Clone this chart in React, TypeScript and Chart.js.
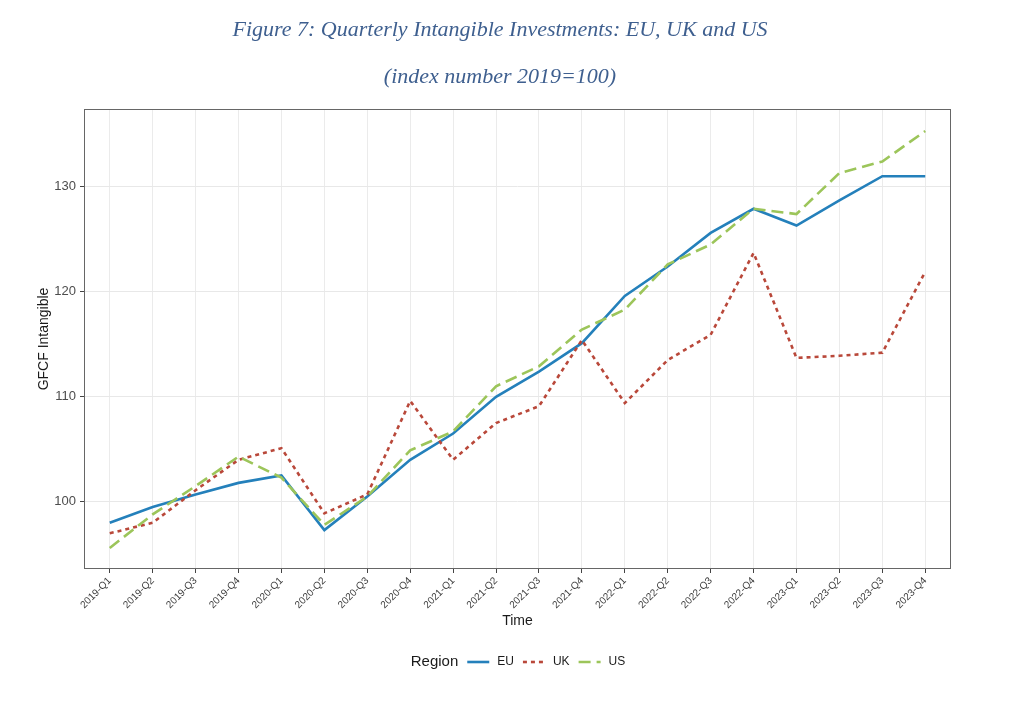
import React, { useEffect, useRef } from 'react';
import { Chart, registerables } from 'chart.js';

Chart.register(...registerables);

// quarters on the x axis
const quarters: string[] = [
  '2019-Q1', '2019-Q2', '2019-Q3', '2019-Q4',
  '2020-Q1', '2020-Q2', '2020-Q3', '2020-Q4',
  '2021-Q1', '2021-Q2', '2021-Q3', '2021-Q4',
  '2022-Q1', '2022-Q2', '2022-Q3', '2022-Q4',
  '2023-Q1', '2023-Q2', '2023-Q3', '2023-Q4',
];

// index values (2019 = 100)
const euValues: number[] = [
  98.0, 99.5, 100.7, 101.8,
  102.5, 97.3, 100.5, 104.0,
  106.5, 110.0, 112.4, 115.1,
  119.6, 122.4, 125.6, 127.9,
  126.3, 128.7, 131.0, 131.0,
];
const ukValues: number[] = [
  97.0, 98.0, 101.1, 104.0,
  105.1, 98.9, 100.7, 109.6,
  104.0, 107.5, 109.1, 115.4,
  109.4, 113.5, 115.9, 123.7,
  113.7, 113.9, 114.2, 121.9,
];
const usValues: number[] = [
  95.6, 98.8, 101.5, 104.3,
  102.3, 97.8, 100.5, 104.9,
  106.7, 111.0, 112.9, 116.4,
  118.3, 122.6, 124.5, 127.9,
  127.4, 131.3, 132.4, 135.3,
];

const yTicks: number[] = [100, 110, 120, 130];

const SANS = "'Liberation Sans', Arial, sans-serif";
const SERIF = "'Liberation Serif', 'Times New Roman', serif";

const toPoints = (vals: number[]) => vals.map((v, i) => ({ x: i, y: v }));

// grey frame round the panel, ggplot style
const panelBorder = {
  id: 'panelBorder',
  afterDatasetsDraw(chart: any) {
    const { ctx, chartArea } = chart;
    ctx.save();
    ctx.strokeStyle = '#666666';
    ctx.lineWidth = 1;
    ctx.strokeRect(chartArea.left + 0.5, chartArea.top + 0.5,
      chartArea.right - chartArea.left - 1, chartArea.bottom - chartArea.top - 1);
    ctx.restore();
  },
};

// legend with the "Region" label inline
const regionLegend = {
  id: 'regionLegend',
  afterDraw(chart: any) {
    const { ctx } = chart;
    const sets = chart.data.datasets;
    const y = 662;
    const lineW = 22;
    ctx.save();
    ctx.textBaseline = 'middle';
    ctx.font = `15px ${SANS}`;
    const titleW = ctx.measureText('Region').width;
    ctx.font = `12px ${SANS}`;
    let total = titleW + 9;
    sets.forEach((ds: any, i: number) => {
      total += lineW + 8 + ctx.measureText(ds.label).width + (i < sets.length - 1 ? 9 : 0);
    });
    let x = 518 - total / 2;
    ctx.fillStyle = '#1a1a1a';
    ctx.font = `15px ${SANS}`;
    ctx.fillText('Region', x, y);
    x += titleW + 9;
    ctx.font = `12px ${SANS}`;
    sets.forEach((ds: any) => {
      ctx.beginPath();
      ctx.setLineDash(ds.borderDash || []);
      ctx.strokeStyle = ds.borderColor;
      ctx.lineWidth = ds.borderWidth;
      ctx.moveTo(x, y);
      ctx.lineTo(x + lineW, y);
      ctx.stroke();
      ctx.setLineDash([]);
      x += lineW + 8;
      ctx.fillStyle = '#1a1a1a';
      ctx.fillText(ds.label, x, y);
      x += ctx.measureText(ds.label).width + 9;
    });
    ctx.restore();
  },
};

const App: React.FC = () => {
  const canvasRef = useRef<HTMLCanvasElement>(null);

  useEffect(() => {
    const ctx = canvasRef.current?.getContext('2d');
    if (!ctx) return;

    const chart = new Chart(ctx, {
      type: 'line',
      data: {
        datasets: [
          {
            label: 'EU',
            data: toPoints(euValues),
            borderColor: '#2480bb',
            borderWidth: 2.6,
            pointRadius: 0,
            tension: 0,
            order: 3,
          },
          {
            label: 'UK',
            data: toPoints(ukValues),
            borderColor: '#b9483a',
            borderWidth: 2.6,
            borderDash: [4, 4],
            pointRadius: 0,
            tension: 0,
            order: 2,
          },
          {
            label: 'US',
            data: toPoints(usValues),
            borderColor: '#9cc55a',
            borderWidth: 2.6,
            borderDash: [12, 6],
            pointRadius: 0,
            tension: 0,
            order: 1,
          },
        ],
      },
      options: {
        animation: false,
        responsive: true,
        maintainAspectRatio: false,
        layout: { padding: { left: 0, right: 24, top: 0, bottom: 80 } },
        plugins: {
          legend: { display: false },
          tooltip: { enabled: false },
          title: {
            display: true,
            text: 'Figure 7: Quarterly Intangible Investments: EU, UK and US',
            color: '#3e5f8f',
            font: { family: SERIF, size: 22, style: 'italic', weight: 'normal' },
            padding: { top: 17, bottom: 10 },
          },
          subtitle: {
            display: true,
            text: '(index number 2019=100)',
            color: '#3e5f8f',
            font: { family: SERIF, size: 22, style: 'italic', weight: 'normal' },
            padding: { top: 10.4, bottom: 18.8 },
          },
        },
        scales: {
          x: {
            type: 'linear',
            min: -0.6,
            max: quarters.length - 0.4,
            afterBuildTicks: (scale: any) => {
              scale.ticks = quarters.map((_, i) => ({ value: i }));
            },
            afterFit: (scale: any) => {
              scale.height = 71;
            },
            ticks: {
              autoSkip: false,
              minRotation: 45,
              maxRotation: 45,
              padding: 2,
              color: '#3d3d3d',
              font: { family: SANS, size: 10 },
              callback: (v: any) => quarters[v] ?? '',
            },
            grid: {
              color: '#ebebeb',
              tickColor: '#444444',
              tickLength: 4,
            },
            border: { display: false },
            title: {
              display: true,
              text: 'Time',
              color: '#1a1a1a',
              font: { family: SANS, size: 14 },
              padding: { top: 0, bottom: 10.6 },
            },
          },
          y: {
            min: 93.6,
            max: 137.4,
            afterBuildTicks: (scale: any) => {
              scale.ticks = yTicks.map((v) => ({ value: v }));
            },
            afterFit: (scale: any) => {
              scale.width = 84;
            },
            ticks: {
              padding: 4,
              color: '#4d4d4d',
              font: { family: SANS, size: 13 },
            },
            grid: {
              color: '#e8e8e8',
              tickColor: '#444444',
              tickLength: 4,
            },
            border: { display: false },
            title: {
              display: true,
              text: 'GFCF Intangible',
              color: '#1a1a1a',
              font: { family: SANS, size: 14 },
              padding: { top: 35.6, bottom: 0 },
            },
          },
          // empty right-hand strip, keeps the titles centred on the page
          gutter: {
            type: 'linear',
            position: 'right',
            display: true,
            afterFit: (scale: any) => {
              scale.width = 49;
            },
            ticks: { display: false },
            grid: { display: false, drawTicks: false },
            border: { display: false },
          },
        },
      },
      plugins: [panelBorder, regionLegend],
    } as any);

    return () => {
      chart.destroy();
    };
  }, []);

  return (
    <div style={{ position: 'absolute', left: 0, top: 0, width: 1024, height: 720, background: '#ffffff' }}>
      <canvas ref={canvasRef} />
    </div>
  );
};

export default App;
